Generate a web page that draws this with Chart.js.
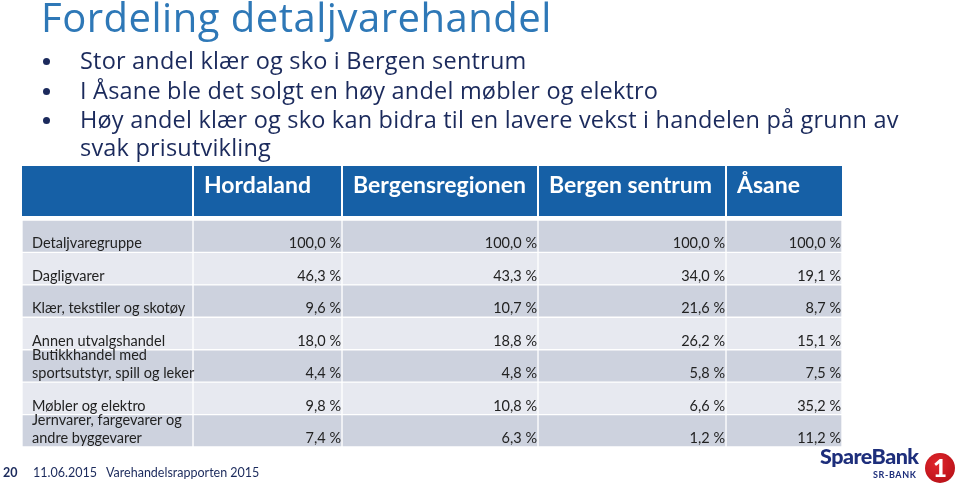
<!DOCTYPE html>
<html lang="no">
  <head>
    <meta charset="utf-8" />
    <title>Fordeling detaljvarehandel</title>
    <script src="https://cdn.jsdelivr.net/npm/chart.js/dist/chart.umd.min.js"></script>
    <style>
      body { margin: 0; background: #fff; font-family: Lato, "Open Sans", sans-serif; }
      #slide { position: relative; width: 959px; height: 488px; overflow: hidden; }
      #chartBox { position: absolute; left: 0; top: 0; width: 959px; height: 488px; }
      .txt { position: absolute; white-space: nowrap; line-height: 1.2; margin: 0; }
      .title { left: 41px; top: -7px; font-family: "Open Sans", sans-serif; font-size: 40px; font-weight: 400;
        letter-spacing: 0.5px; color: #2e78b7; }
      .bullet { left: 80px; font-family: "Open Sans", sans-serif; font-size: 23.5px; letter-spacing: 0.2px; color: #1b2a5c; }
      .dot { position: absolute; left: 43px; width: 7px; height: 7px; border-radius: 50%; background: #1b2a5c; }
      .foot { font-size: 12.5px; color: #1b2a5c; top: 465px; }
      .logo { position: absolute; left: 818px; top: 450px; width: 140px; height: 36px; }
      .logo .sb { position: absolute; left: 2px; top: -6px; font-size: 21.5px; font-weight: 900; color: #1d2e7b; letter-spacing: -0.5px; }
      .logo .sr { position: absolute; left: 55px; top: 20px; font-size: 9px; font-weight: 700; color: #1d2e7b; letter-spacing: 0.6px; }
      .logo .one { position: absolute; left: 107px; top: 3px; width: 30px; height: 30px; border-radius: 50%;
        background: radial-gradient(circle at 40% 35%, #e0262c, #b00d14); color: #fff; font-weight: 900;
        font-size: 24px; line-height: 30px; text-align: center; }
    </style>
  </head>
  <body>
    <div id="slide">
      <div id="chartBox"><canvas id="myChart"></canvas></div>
      <h1 class="txt title">Fordeling detaljvarehandel</h1>
      <span class="dot" style="top:58px"></span>
      <div class="txt bullet" style="top:46px">Stor andel klær og sko i Bergen sentrum</div>
      <span class="dot" style="top:88px"></span>
      <div class="txt bullet" style="top:76px">I Åsane ble det solgt en høy andel møbler og elektro</div>
      <span class="dot" style="top:117px"></span>
      <div class="txt bullet" style="top:105px">Høy andel klær og sko kan bidra til en lavere vekst i handelen på grunn av</div>
      <div class="txt bullet" style="top:133px">svak prisutvikling</div>
      <div class="txt foot" style="left:3px;font-weight:700">20</div>
      <div class="txt foot" style="left:33px">11.06.2015&nbsp;&nbsp; Varehandelsrapporten 2015</div>
      <div class="logo">
        <span class="txt sb">SpareBank</span>
        <span class="txt sr">SR-BANK</span>
        <span class="one">1</span>
      </div>
    </div>

    <script>
      // table data
      const columns = ["Hordaland", "Bergensregionen", "Bergen sentrum", "Åsane"];
      const groups = [
        "Detaljvaregruppe",
        "Dagligvarer",
        "Klær, tekstiler og skotøy",
        "Annen utvalgshandel",
        ["Butikkhandel med", "sportsutstyr, spill og leker"],
        "Møbler og elektro",
        ["Jernvarer, fargevarer og", "andre byggevarer"],
      ];
      const hordaland = [100.0, 46.3, 9.6, 18.0, 4.4, 9.8, 7.4];
      const bergensregionen = [100.0, 43.3, 10.7, 18.8, 4.8, 10.8, 6.3];
      const bergenSentrum = [100.0, 34.0, 21.6, 26.2, 5.8, 6.6, 1.2];
      const asane = [100.0, 19.1, 8.7, 15.1, 7.5, 35.2, 11.2];

      // layout: column edges on the x scale (label column first)
      const colEdges = [0, 171, 320, 516, 704, 820];
      const headerBlue = "#1660a6";
      const rowDark = "#cdd2de";
      const rowLight = "#e7e9f0";
      const cellFont = "14.5px Lato, sans-serif";

      const fmt = (v) => v.toFixed(1).replace(".", ",") + " %";

      function cellSet(i, values) {
        return {
          label: i === 0 ? "Detaljvaregruppe" : columns[i - 1],
          values: values,
          data: groups.map(() => [colEdges[i], colEdges[i + 1]]),
          backgroundColor: (ctx) => (ctx.dataIndex % 2 === 0 ? rowDark : rowLight),
          borderColor: "#ffffff",
          borderWidth: 1,
          borderSkipped: false,
          grouped: false,
          barPercentage: 1,
          categoryPercentage: 1,
        };
      }

      // header band + cell texts
      const tablePlugin = {
        id: "tableText",
        afterDatasetsDraw(chart) {
          const { ctx, chartArea, scales } = chart;
          const x = scales.x;
          const top = chartArea.top - 54;
          const bottom = chartArea.top - 4;
          ctx.save();
          ctx.fillStyle = headerBlue;
          ctx.fillRect(chartArea.left, top, chartArea.right - chartArea.left, bottom - top);
          ctx.fillStyle = "#ffffff";
          for (let i = 1; i < colEdges.length - 1; i++) {
            ctx.fillRect(x.getPixelForValue(colEdges[i]) - 1, top, 2, bottom - top);
          }
          ctx.font = "bold 23px Lato, sans-serif";
          ctx.textBaseline = "alphabetic";
          ctx.textAlign = "left";
          columns.forEach((c, i) => {
            ctx.fillText(c, x.getPixelForValue(colEdges[i + 1]) + 11, top + 27);
          });

          ctx.fillStyle = "#222222";
          ctx.font = cellFont;
          chart.data.datasets.forEach((ds, di) => {
            const meta = chart.getDatasetMeta(di);
            meta.data.forEach((bar, r) => {
              const left = Math.min(bar.x, bar.base);
              const right = Math.max(bar.x, bar.base);
              const base = bar.y + bar.height / 2 - 4;
              if (di === 0) {
                ctx.textAlign = "left";
                const lines = [].concat(chart.data.labels[r]);
                lines.forEach((t, k) => {
                  ctx.fillText(t, left + 10, base - (lines.length - 1 - k) * 18);
                });
              } else {
                ctx.textAlign = "right";
                ctx.fillText(fmt(ds.values[r]), right - 1, base);
              }
            });
          });
          ctx.restore();
        },
      };

      const data = {
        labels: groups,
        datasets: [
          cellSet(0, null),
          cellSet(1, hordaland),
          cellSet(2, bergensregionen),
          cellSet(3, bergenSentrum),
          cellSet(4, asane),
        ],
      };

      const config = {
        type: "bar",
        data,
        options: {
          indexAxis: "y",
          responsive: true,
          maintainAspectRatio: false,
          animation: false,
          layout: { padding: { left: 22, right: 117, top: 220, bottom: 41 } },
          scales: {
            x: { type: "linear", min: 0, max: 820, display: false },
            y: { type: "category", display: false },
          },
          plugins: { legend: { display: false }, tooltip: { enabled: false } },
        },
        plugins: [tablePlugin],
      };

      new Chart(document.getElementById("myChart"), config);
    </script>
  </body>
</html>
